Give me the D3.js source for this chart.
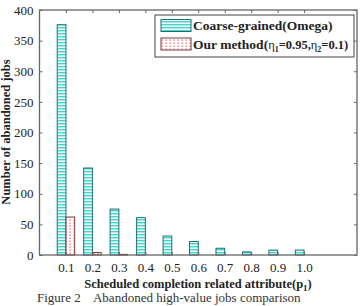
<!DOCTYPE html>
<html><head><meta charset="utf-8">
<script src="https://cdn.jsdelivr.net/npm/d3@7"></script>
<style>body{margin:0;background:#fff;}svg{display:block;}</style>
</head><body>
<svg id="c" width="364" height="306"></svg>
<script>
const categories = ["0.1","0.2","0.3","0.4","0.5","0.6","0.7","0.8","0.9","1.0"];
const coarse = [376, 142, 75, 61, 31, 22, 11, 5, 8, 8];
const ours = [62, 4, 1, 0, 0, 0, 0, 0, 0, 0];
const yTicks = [0, 50, 100, 150, 200, 250, 300, 350, 400];
const seriesNames = ["Coarse-grained(Omega)", "Our method"];

const svg = d3.select("#c");
const font = "'Liberation Serif','Times New Roman',serif";
const L = 39.5, R = 357, T = 10, B = 255;
const x = d3.scaleLinear().domain([0, 12]).range([L, R]);
const y = d3.scaleLinear().domain([0, 400]).range([B, T]);
const bw = 0.33;

const defs = svg.append("defs");
const p1 = defs.append("pattern").attr("id","hstripe").attr("patternUnits","userSpaceOnUse")
  .attr("width",6).attr("height",3);
p1.append("rect").attr("width",6).attr("height",3).attr("fill","#eefcfc");
p1.append("rect").attr("y",0).attr("width",6).attr("height",1.4).attr("fill","#46d2d2");
const p2 = defs.append("pattern").attr("id","dots").attr("patternUnits","userSpaceOnUse")
  .attr("width",4).attr("height",3).attr("x",0);
p2.append("rect").attr("width",4).attr("height",3).attr("fill","#fff");
p2.append("rect").attr("x",1.5).attr("y",0.5).attr("width",1.2).attr("height",1.2).attr("fill","#e04848");

// bars
svg.append("g").selectAll("rect").data(coarse).join("rect")
  .attr("x",(d,i)=>x(i+1-bw)).attr("width",x(bw)-x(0))
  .attr("y",d=>y(d)).attr("height",d=>y(0)-y(d))
  .attr("fill","url(#hstripe)").attr("stroke","#1f6f72").attr("stroke-width",1);
svg.append("g").selectAll("rect").data(ours).join("rect")
  .attr("x",(d,i)=>x(i+1)).attr("width",x(bw)-x(0))
  .attr("y",d=>y(d)).attr("height",d=>y(0)-y(d))
  .attr("fill","url(#dots)").attr("stroke","#7a3a3a").attr("stroke-width",1)
  .attr("display",d=>d>0?null:"none");

// frame and ticks
const ac = "#666";
svg.append("rect").attr("x",L).attr("y",T).attr("width",R-L).attr("height",B-T)
  .attr("fill","none").attr("stroke",ac).attr("stroke-width",1.3);
const yAxis = d3.axisLeft(y).tickValues(yTicks).tickSize(-3).tickPadding(6);
const gy = svg.append("g").attr("transform",`translate(${L},0)`).call(yAxis);
const gy2 = svg.append("g").attr("transform",`translate(${R},0)`).call(d3.axisRight(y).tickValues(yTicks).tickSize(-3).tickFormat(""));
const xAxis = d3.axisBottom(x).tickValues(d3.range(1,11)).tickSize(-3).tickPadding(8)
  .tickFormat(d=>categories[d-1]);
const gx = svg.append("g").attr("transform",`translate(0,${B})`).call(xAxis);
const gx2 = svg.append("g").attr("transform",`translate(0,${T})`).call(d3.axisTop(x).tickValues(d3.range(1,11)).tickSize(-3).tickFormat(""));
[gy,gy2,gx,gx2].forEach(g=>{
  g.select(".domain").remove();
  g.selectAll("line").attr("stroke",ac);
  g.selectAll("text").attr("font-family",font).attr("font-size",13).attr("fill","#222");
});

// axis titles
svg.append("text").attr("x",198).attr("y",288).attr("text-anchor","middle")
  .attr("font-family",font).attr("font-weight","bold").attr("font-size",12.5).attr("fill","#222")
  .html('Scheduled completion related attribute(p<tspan font-size="9" dy="3">1</tspan><tspan dy="-3">)</tspan>');
svg.append("text").attr("transform","translate(10,132) rotate(-90)").attr("text-anchor","middle")
  .attr("font-family",font).attr("font-weight","bold").attr("font-size",12.5).attr("fill","#222")
  .text("Number of abandoned jobs");

// legend
const lg = svg.append("g");
lg.append("rect").attr("x",155).attr("y",15).attr("width",199).attr("height",42)
  .attr("fill","#fff").attr("stroke","#444").attr("stroke-width",1);
lg.append("rect").attr("x",161).attr("y",19.5).attr("width",30).attr("height",12)
  .attr("fill","url(#hstripe)").attr("stroke","#1f6f72");
lg.append("rect").attr("x",161).attr("y",38).attr("width",30).attr("height",12)
  .attr("fill","url(#dots)").attr("stroke","#7a3a3a");
lg.append("text").attr("x",193).attr("y",30).attr("font-family",font).attr("font-weight","bold")
  .attr("font-size",13.5).attr("fill","#222").text(seriesNames[0]);
lg.append("text").attr("x",193).attr("y",48.5).attr("font-family",font).attr("font-weight","bold")
  .attr("font-size",13.5).attr("fill","#222")
  .html(seriesNames[1]+'(<tspan font-weight="normal" font-size="12.5">η</tspan><tspan font-size="8" dy="3">1</tspan><tspan dy="-3" font-size="12.5">=0.95,</tspan><tspan font-weight="normal" font-size="12.5">η</tspan><tspan font-size="8" dy="3">2</tspan><tspan dy="-3" font-size="12.5">=0.1)</tspan>');

// caption at the bottom edge
svg.append("text").attr("x",37).attr("y",302).attr("font-family",font)
  .attr("font-size",13).attr("fill","#333").attr("xml:space","preserve")
  .text("Figure 2    Abandoned high-value jobs comparison");
</script>
</body></html>
